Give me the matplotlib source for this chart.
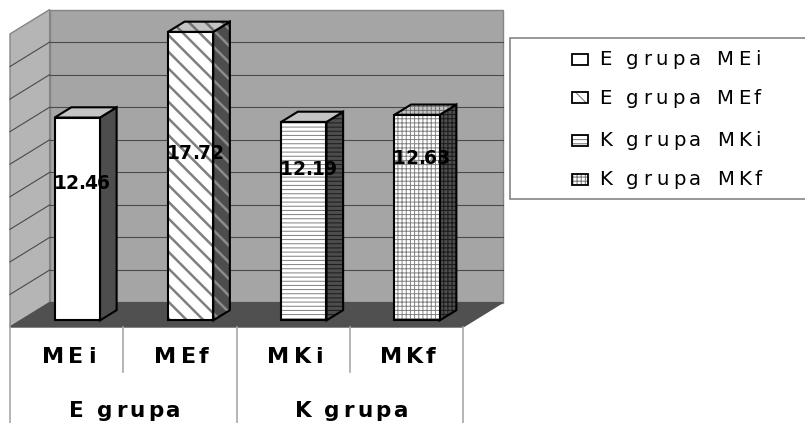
"""Excel-style 3D column chart: E grupa vs K grupa (MEi/MEf/MKi/MKf)."""

import matplotlib
matplotlib.use("Agg")
import matplotlib.pyplot as plt
from matplotlib import font_manager
from matplotlib.font_manager import FontProperties
from matplotlib.ft2font import FT2Font
from matplotlib.patches import Polygon, Rectangle

categories = ["MEi", "MEf", "MKi", "MKf"]
groups = ["E grupa", "K grupa"]
values = [12.46, 17.72, 12.19, 12.63]
series_labels = ["E grupa MEi", "E grupa MEf", "K grupa MKi", "K grupa MKf"]
y_max = 18
y_step = 2

# styling / placement (not data)
hatches = ["", "\\\\", "----", "++++"]
top_hatches = ["", "\\\\", "", "++++"]
side_hatch_colors = ["#1a1a1a", "#8c8c8c", "#1a1a1a", "#1a1a1a"]
label_heights = [8.48, 10.32, 9.34, 10.01]

WALL = "#a5a5a5"
SIDE_WALL = "#b5b5b5"
FLOOR = "#505050"
EDGE = "#858585"
GRID = "#4a4a4a"
LABEL_LINE = "#a8a8a8"
DEPTH = (0.35, 1.5)          # back-wall offset in (category, value) units
FONT = "DejaVu Sans"


def metrics(text, prop):
    font = FT2Font(font_manager.findfont(prop))
    font.set_size(prop.get_size_in_points(), 72)
    out = []
    for ch in text:
        glyph = font.load_char(ord(ch))
        out.append((glyph.linearHoriAdvance / 65536, glyph.horiBearingX / 64))
    return out


def spaced_text(ax, x, y, text, prop, track, ha="center"):
    """Letter-spaced text: one Text per glyph, offsets in points."""
    m = metrics(text, prop)
    width = sum(a for a, _ in m) + track * (len(text) - 1)
    pos = -width / 2 if ha == "center" else -m[0][1]
    for ch, (adv, bear) in zip(text, m):
        if not ch.isspace():
            ax.annotate(ch, (x, y), xytext=(pos + bear, 0),
                        textcoords="offset points", ha="left", va="baseline",
                        fontproperties=prop, annotation_clip=False, zorder=5)
        pos += adv + track


def face(ax, pts, color, hatch, hatch_color, hatch_lw, edge="black", lw=1.5):
    ax.add_patch(Polygon(pts, closed=True, facecolor=color, edgecolor="none",
                         zorder=2))
    if hatch:
        p = Polygon(pts, closed=True, facecolor="none", edgecolor=hatch_color,
                    hatch=hatch, linewidth=0, zorder=2)
        if hasattr(p, "set_hatch_linewidth"):
            p.set_hatch_linewidth(hatch_lw)
        ax.add_patch(p)
    ax.add_patch(Polygon(pts, closed=True, fill=False, edgecolor=edge,
                         linewidth=lw, joinstyle="miter", zorder=2))


def draw_walls(ax, n):
    dx, dy = DEPTH
    back = [(dx, dy), (n + dx, dy), (n + dx, y_max + dy), (dx, y_max + dy)]
    side = [(0, 0), (dx, dy), (dx, y_max + dy), (0, y_max)]
    floor = [(0, 0), (n, 0), (n + dx, dy), (dx, dy)]
    ax.add_patch(Polygon(back, facecolor=WALL, edgecolor=EDGE, linewidth=1,
                         zorder=0))
    ax.add_patch(Polygon(side, facecolor=SIDE_WALL, edgecolor=EDGE,
                         linewidth=1, zorder=0))
    for v in range(y_step, y_max, y_step):
        ax.plot([dx, n + dx], [v + dy, v + dy], color=GRID, linewidth=0.8,
                zorder=0.5)
        ax.plot([0, dx], [v, v + dy], color=GRID, linewidth=0.8, zorder=0.5)
    ax.add_patch(Polygon(floor, facecolor=FLOOR, edgecolor=FLOOR, linewidth=1,
                         zorder=1))


def draw_bar(ax, i, value, hatch, top_hatch, side_hc):
    dx, dy = DEPTH
    fx, fy = 0.27 * dx, 0.27 * dy
    bx, by = 0.42 * dx, 0.42 * dy
    x0 = i + 0.3 + fx
    x1 = x0 + 0.4
    y0, y1 = fy, value + fy
    front = [(x0, y0), (x1, y0), (x1, y1), (x0, y1)]
    side = [(x1, y0), (x1 + bx, y0 + by), (x1 + bx, y1 + by), (x1, y1)]
    top = [(x0, y1), (x1, y1), (x1 + bx, y1 + by), (x0 + bx, y1 + by)]
    hlw = 1.8 if "\\" in hatch else 0.7
    face(ax, side, "#4d4d4d", hatch, side_hc, hlw)
    face(ax, top, "#c4c4c4", top_hatch, "#707070", hlw)
    face(ax, front, "white", hatch, "#808080", hlw)


def main():
    fig = plt.figure(figsize=(8.05, 4.23), dpi=100)
    ax = fig.add_axes([0, 0, 1, 1])
    ax.set_xlim(-10 / 113.25, 795 / 113.25)
    ax.set_ylim(-96 / 16.28, 327 / 16.28)
    ax.axis("off")

    n = len(categories)
    draw_walls(ax, n)
    for i, v in enumerate(values):
        draw_bar(ax, i, v, hatches[i], top_hatches[i], side_hatch_colors[i])

    bold_val = FontProperties(family=FONT, weight="bold", size=13.5)
    for i, v in enumerate(values):
        spaced_text(ax, i + 0.62, label_heights[i], f"{v:.2f}", bold_val, -0.3)

    # category axis table below the floor
    bottom = ax.get_ylim()[0]
    for k in range(n + 1):
        low = bottom if k % 2 == 0 else -2.76
        ax.plot([k, k], [0, low], color=LABEL_LINE, linewidth=1.2)
    bold_cat = FontProperties(family=FONT, weight="bold", size=16)
    for i, name in enumerate(categories):
        spaced_text(ax, i + 0.5, -2.21, name, bold_cat, 3.1)
    bold_grp = FontProperties(family=FONT, weight="bold", size=15.5)
    for j, name in enumerate(groups):
        spaced_text(ax, 2 * j + 1, -5.51, name, bold_grp, 2.2)

    # legend, in pixel coordinates
    lg = fig.add_axes([0, 0, 1, 1])
    lg.set_xlim(0, 805)
    lg.set_ylim(423, 0)
    lg.axis("off")
    lg.add_patch(Rectangle((510, 38), 310, 161, facecolor="white",
                           edgecolor=EDGE, linewidth=1.2, zorder=1))
    leg_font = FontProperties(family=FONT, size=14.2)
    baselines = [65, 103.5, 146.5, 185]
    for k, label in enumerate(series_labels):
        b = baselines[k]
        face(lg, [(572, b - 11), (588, b - 11), (588, b), (572, b)],
             "white", hatches[k], "#808080", 0.8, lw=1.3)
        spaced_text(lg, 599, b, label, leg_font, 3.1, ha="left")

    fig.savefig("out.png", dpi=100, facecolor="white")


if __name__ == "__main__":
    main()
